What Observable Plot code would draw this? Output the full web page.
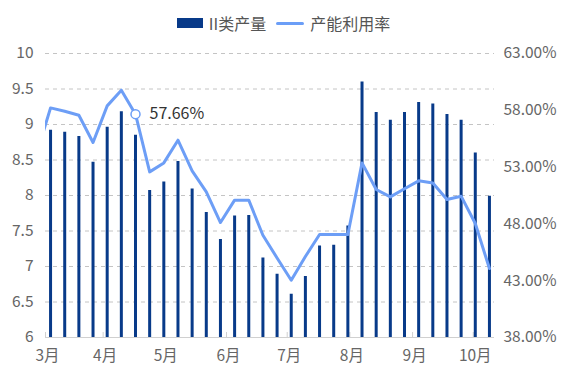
<!DOCTYPE html>
<html><head><meta charset="utf-8">
<script src="https://cdn.jsdelivr.net/npm/d3@7"></script>
<script src="https://cdn.jsdelivr.net/npm/@observablehq/plot@0.6"></script>
<style>
body{margin:0;background:#fff;font-family:"Noto Sans CJK SC","Noto Sans",sans-serif;}
#legend{box-sizing:border-box;height:40px;padding-top:6px;display:flex;justify-content:center;align-items:center;font-size:16px;color:#555;}
.item{display:flex;align-items:center;margin:0 5px;}
.sw-bar{width:26px;height:10px;background:#083a89;margin-right:6px;}
.sw-line{width:28px;height:3px;background:#6b9ef7;border-radius:2px;margin-right:6px;}
</style></head><body>
<div id="legend"></div>
<div id="chart"></div>
<script>
const weekDates = ["2021-03-06","2021-03-13","2021-03-20","2021-03-27","2021-04-03","2021-04-10","2021-04-17","2021-04-24","2021-05-01","2021-05-08","2021-05-15","2021-05-22","2021-05-29","2021-06-05","2021-06-12","2021-06-19","2021-06-26","2021-07-03","2021-07-10","2021-07-17","2021-07-24","2021-07-31","2021-08-07","2021-08-14","2021-08-21","2021-08-28","2021-09-04","2021-09-11","2021-09-18","2021-09-25","2021-10-02","2021-10-09"];
const production = [8.92,8.89,8.83,8.47,8.96,9.18,8.85,8.07,8.19,8.48,8.09,7.76,7.38,7.71,7.72,7.12,6.89,6.61,6.86,7.29,7.30,7.57,9.60,9.17,9.06,9.17,9.31,9.29,9.14,9.06,8.60,7.99];
const utilization = [58.21,57.92,57.57,55.17,58.39,59.77,57.66,52.58,53.37,55.37,52.67,50.82,48.12,50.09,50.09,47.00,45.00,43.04,45.13,47.07,47.07,47.07,53.37,51.03,50.38,51.10,51.79,51.60,50.15,50.44,48.03,44.07];
const leadDate = "2021-02-27";
const leadUtil = 54.1;
const highlightIndex = 6;
const monthTickDates = ["2021-03-03T12:00Z","2021-04-01T00:00Z","2021-05-01T00:00Z","2021-06-01T00:00Z","2021-07-01T00:00Z","2021-08-01T00:00Z","2021-09-01T00:00Z","2021-10-01T00:00Z"];
const monthLabels = ["3月","4月","5月","6月","7月","8月","9月","10月"];
const leftTicks = [6,6.5,7,7.5,8,8.5,9,9.5,10];
const rightTicks = [38,43,48,53,58,63];
const seriesNames = ["II类产量","产能利用率"];
const barColor = "#083a89", lineColor = "#6d9ef6";

// legend
document.getElementById("legend").innerHTML =
  `<div class="item"><div class="sw-bar"></div><span>${seriesNames[0]}</span></div>` +
  `<div class="item"><div class="sw-line"></div><span>${seriesNames[1]}</span></div>`;

const parse = d3.utcParse("%Y-%m-%d");
const leftMin = leftTicks[0], leftMax = leftTicks[leftTicks.length-1];
const rMin = rightTicks[0], rMax = rightTicks[rightTicks.length-1];
const k = (leftMax-leftMin)/(rMax-rMin);
const toLeft = p => leftMin + (p - rMin)*k;

const bars = weekDates.map((d,i)=>({date: parse(d), value: production[i]}));
const lineData = [{date: parse(leadDate), util: leadUtil}, ...weekDates.map((d,i)=>({date: parse(d), util: utilization[i]}))];
const hl = [{date: parse(weekDates[highlightIndex]), util: utilization[highlightIndex]}];
const tickDates = monthTickDates.map(s=>new Date(s));
const labelByTime = new Map(tickDates.map((d,i)=>[d.getTime(), monthLabels[i]]));

const chart = Plot.plot({
  width:567, height:339, marginTop:13, marginBottom:42, marginLeft:45, marginRight:73,
  style:{fontFamily:'"Noto Sans CJK SC","Noto Sans",sans-serif', fontSize:"15.5px", color:"#666", background:"#fff", overflow:"visible"},
  x:{type:"utc", domain:[tickDates[0], new Date("2021-10-11T12:00Z")]},
  y:{domain:[leftMin,leftMax]},
  marks:[
    Plot.gridY(leftTicks.slice(1), {stroke:"#c4c4c4", strokeOpacity:1, strokeDasharray:"4,4"}),
    Plot.ruleY([leftMin], {stroke:"#d0d0d0"}),
    Plot.axisY({ticks:leftTicks, tickSize:0, tickPadding:12, tickFormat:d=>String(d), label:null}),
    Plot.axisY({anchor:"right", ticks:rightTicks.map(toLeft), tickSize:0, tickPadding:9,
      tickFormat:d=>((d-leftMin)/k + rMin).toFixed(2)+"%", label:null}),
    Plot.axisX({ticks:tickDates, tickFormat:null, tickSize:-5, stroke:"#d0d0d0", label:null, text:null}),
    Plot.axisX({ticks:tickDates, tickFormat:d=>labelByTime.get(d.getTime()), tickSize:0, tickPadding:12, dx:2, label:null}),
    Plot.ruleX(bars, {x:"date", y:"value", stroke:barColor, strokeWidth:3, clip:true}),
    Plot.line(lineData, {x:"date", y:d=>toLeft(d.util), stroke:lineColor, strokeWidth:3, clip:true}),
    Plot.dot(hl, {x:"date", y:d=>toLeft(d.util), r:4.5, fill:"white", stroke:lineColor, strokeWidth:1.5}),
    Plot.text(hl, {x:"date", y:d=>toLeft(d.util), text:d=>d.util.toFixed(2)+"%", dx:14, textAnchor:"start", fontSize:16, fill:"#333"})
  ]
});
document.getElementById("chart").appendChild(chart);
</script>
</body></html>
